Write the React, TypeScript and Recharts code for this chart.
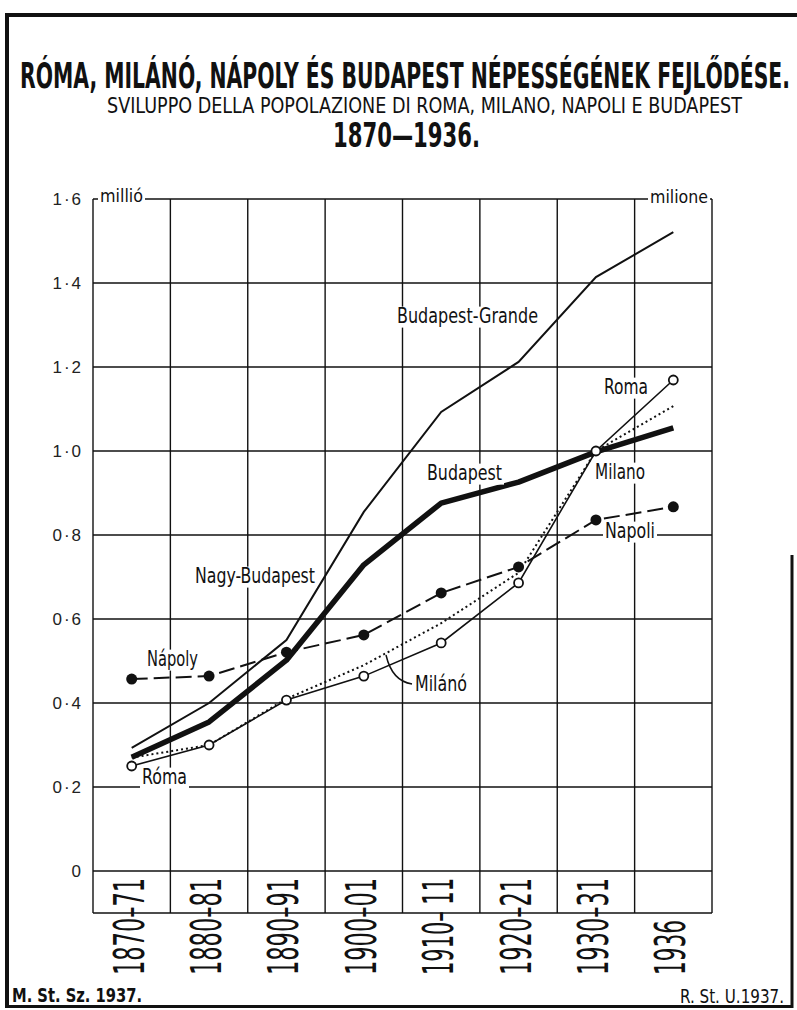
import React from 'react';
import { LineChart, Line, XAxis, YAxis, CartesianGrid } from 'recharts';

// ---- data (millions of inhabitants) ----
const periods = ['1870–71', '1880–81', '1890–91', '1900–01', '1910– 11', '1920–21', '1930–31', '1936'];
const budapest = [0.271, 0.355, 0.502, 0.729, 0.876, 0.926, 0.998, 1.055];
const nagyBudapest = [0.293, 0.4, 0.55, 0.855, 1.093, 1.212, 1.414, 1.521];
const napoli = [0.457, 0.464, 0.521, 0.562, 0.662, 0.724, 0.836, 0.867];
const roma = [0.25, 0.3, 0.407, 0.464, 0.543, 0.686, 1.0, 1.169];
const milano = [0.27, 0.3, 0.41, 0.49, 0.59, 0.71, 1.0, 1.107];
const yTicks = [0, 0.2, 0.4, 0.6, 0.8, 1.0, 1.2, 1.4, 1.6];

const data = periods.map((p, i) => ({
  period: p,
  budapest: budapest[i],
  nagyBudapest: nagyBudapest[i],
  napoli: napoli[i],
  roma: roma[i],
  milano: milano[i],
}));

const NARROW = "'Liberation Sans Narrow', 'DejaVu Sans Condensed', 'Roboto Condensed', 'Liberation Sans', Arial, sans-serif";
const TICKFONT = "'Liberation Sans', 'DejaVu Sans', Arial, sans-serif";
const INK = '#111';

const fmt = (v: number) => (v === 0 ? '0' : v.toFixed(1).replace('.', '·'));

// vertical grid lines on the boundaries of the category bands
const bandEdges = (props: any) => {
  const n = periods.length;
  const off = props && props.offset;
  const left = off && isFinite(off.left) ? off.left : 93;
  const width = off && isFinite(off.width) ? off.width : 619;
  return Array.from({ length: n + 1 }, (_, i) => left + (i * width) / n);
};

const LeftTick = (props: any) => {
  const { x, y, payload } = props;
  return (
    <text x={x} y={y} dy={6} textAnchor="end" fontFamily={TICKFONT} fontSize={17} fill="#222" letterSpacing={2}>
      {fmt(payload.value)}
    </text>
  );
};
const RightTick = (props: any) => {
  const { x, y, payload } = props;
  return (
    <text x={x} y={y} dy={6} textAnchor="start" fontFamily={TICKFONT} fontSize={17} fill="#222" letterSpacing={2}>
      {fmt(payload.value)}
    </text>
  );
};
const XTick = (props: any) => {
  const { x, y, payload } = props;
  const label = String(payload.value);
  const len = label.length <= 4 ? 55 : 97;
  return (
    <text
      transform={`translate(${x + 12},${y + 62}) rotate(-90)`}
      textAnchor="start"
      fontFamily={NARROW}
      fontSize={42}
      fill={INK}
      textLength={len}
      lengthAdjust="spacingAndGlyphs"
    >
      {label}
    </text>
  );
};

const FilledDot = (props: any) => {
  const { cx, cy, index } = props;
  if (cx == null || cy == null) return <g key={index} />;
  return <circle key={index} cx={cx} cy={cy} r={5.5} fill={INK} stroke="none" />;
};
const OpenDot = (props: any) => {
  const { cx, cy, index } = props;
  if (cx == null || cy == null) return <g key={index} />;
  return <circle key={index} cx={cx} cy={cy} r={4.5} fill="#fff" stroke={INK} strokeWidth={1.8} />;
};

const Lbl = ({ x, y, w, text, size = 20 }: { x: number; y: number; w: number; text: string; size?: number }) => (
  <g>
    <rect x={x - 2} y={y - size * 0.78} width={w + 4} height={size * 1.0} fill="#fff" />
    <text x={x} y={y} fontFamily={NARROW} fontSize={size} fill={INK} textLength={w} lengthAdjust="spacingAndGlyphs">
      {text}
    </text>
  </g>
);

export default function App() {
  return (
    <div style={{ position: 'absolute', left: 0, top: 0, width: 797, height: 1010, background: '#fff' }}>
      <LineChart
        width={797}
        height={1010}
        data={data}
        margin={{ top: 199, right: 5, bottom: 37, left: 13 }}
      >
        <CartesianGrid
          yAxisId="l"
          vertical
          horizontal
          verticalCoordinatesGenerator={bandEdges}
          stroke={INK}
          strokeWidth={1.4}
          strokeOpacity={1}
        />
        <XAxis
          dataKey="period"
          type="category"
          scale="band"
          axisLine={false}
          tickLine={false}
          tickSize={0}
          tickMargin={0}
          height={60}
          interval={0}
          tick={<XTick />}
        />
        <YAxis
          yAxisId="l"
          type="number"
          domain={[-0.1, 1.6]}
          ticks={yTicks}
          axisLine={false}
          tickLine={false}
          tickSize={0}
          tickMargin={10}
          width={80}
          interval={0}
          tick={<LeftTick />}
        />
        <YAxis
          yAxisId="r"
          orientation="right"
          type="number"
          domain={[-0.1, 1.6]}
          ticks={yTicks}
          axisLine={false}
          tickLine={false}
          tickSize={0}
          tickMargin={12}
          width={80}
          interval={0}
          tick={<RightTick />}
        />
        <Line
          yAxisId="l"
          dataKey="nagyBudapest"
          stroke={INK}
          strokeWidth={2}
          dot={false}
          isAnimationActive={false}
        />
        <Line
          yAxisId="l"
          dataKey="budapest"
          stroke={INK}
          strokeWidth={5.5}
          strokeLinejoin="round"
          dot={false}
          isAnimationActive={false}
        />
        <Line
          yAxisId="l"
          dataKey="napoli"
          stroke={INK}
          strokeWidth={2}
          strokeDasharray="16 6"
          dot={<FilledDot />}
          isAnimationActive={false}
        />
        <Line
          yAxisId="l"
          dataKey="milano"
          stroke={INK}
          strokeWidth={2}
          strokeDasharray="2 3"
          dot={false}
          isAnimationActive={false}
        />
        <Line
          yAxisId="l"
          dataKey="roma"
          stroke={INK}
          strokeWidth={1.6}
          dot={<OpenDot />}
          isAnimationActive={false}
        />
      </LineChart>

      <svg
        width={797}
        height={1010}
        style={{ position: 'absolute', left: 0, top: 0, pointerEvents: 'none' }}
      >
        {/* frame */}
        <line x1={5} y1={15} x2={797} y2={15} stroke={INK} strokeWidth={4} />
        <line x1={7} y1={13} x2={7} y2={1008} stroke={INK} strokeWidth={4} />
        <line x1={5} y1={1006.5} x2={793} y2={1006.5} stroke={INK} strokeWidth={3} />
        <line x1={792} y1={555} x2={792} y2={1008} stroke={INK} strokeWidth={3} />

        {/* titles */}
        <text x={20} y={88} fontFamily={NARROW} fontWeight="bold" fontSize={35} fill={INK} textLength={770} lengthAdjust="spacingAndGlyphs">
          RÓMA, MILÁNÓ, NÁPOLY ÉS BUDAPEST NÉPESSÉGÉNEK FEJLŐDÉSE.
        </text>
        <text x={107} y={113} fontFamily={NARROW} fontSize={21} fill={INK} textLength={635} lengthAdjust="spacingAndGlyphs">
          SVILUPPO DELLA POPOLAZIONE DI ROMA, MILANO, NAPOLI E BUDAPEST
        </text>
        <text x={333} y={147} fontFamily={NARROW} fontWeight="bold" fontSize={34} fill={INK} textLength={147} lengthAdjust="spacingAndGlyphs">
          1870—1936.
        </text>

        {/* unit labels */}
        <Lbl x={100} y={202} w={43} text="millió" size={17} />
        <Lbl x={650} y={203} w={58} text="milione" size={17} />

        {/* series labels */}
        <Lbl x={397} y={323} w={141} text="Budapest-Grande" size={21} />
        <Lbl x={427} y={480} w={75} text="Budapest" size={21} />
        <Lbl x={195} y={583} w={120} text="Nagy-Budapest" size={21} />
        <Lbl x={147} y={666} w={51} text="Nápoly" size={21} />
        <Lbl x={142} y={784} w={45} text="Róma" size={21} />
        <Lbl x={415} y={691} w={52} text="Milánó" size={21} />
        <path d="M386,655 Q392,681 412,684" fill="none" stroke={INK} strokeWidth={1.5} />
        <Lbl x={604} y={394} w={44} text="Roma" size={21} />
        <Lbl x={595} y={479} w={50} text="Milano" size={21} />
        <Lbl x={605} y={538} w={50} text="Napoli" size={21} />

        {/* footers */}
        <text x={12} y={1002} fontFamily={NARROW} fontWeight="bold" fontSize={20} fill={INK} textLength={130} lengthAdjust="spacingAndGlyphs">
          M. St. Sz. 1937.
        </text>
        <text x={680} y={1003} fontFamily={NARROW} fontSize={19} fill={INK} textLength={104} lengthAdjust="spacingAndGlyphs">
          R. St. U.1937.
        </text>
      </svg>
    </div>
  );
}
